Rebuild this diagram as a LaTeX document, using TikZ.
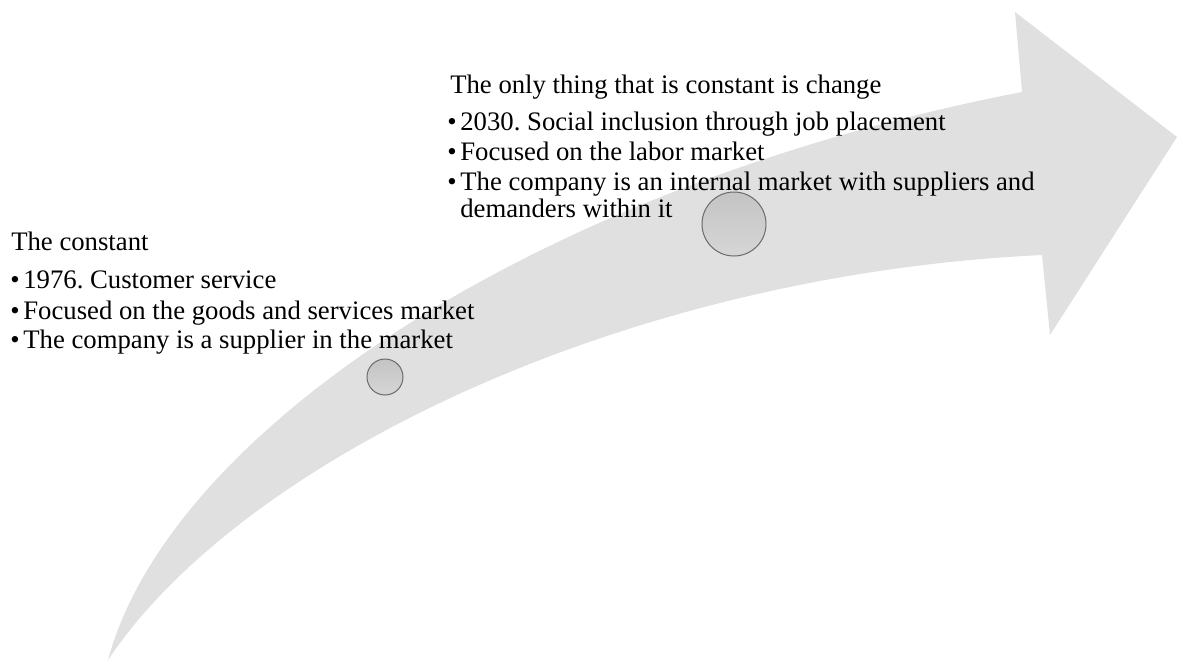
\documentclass[tikz,border=0pt]{standalone}
\usepackage{fontspec}
\setmainfont{Liberation Serif}
\definecolor{arrowgray}{RGB}{224,224,224}
\definecolor{dotedge}{RGB}{105,105,105}
\definecolor{dottop}{RGB}{196,196,196}
\definecolor{dotbot}{RGB}{214,214,214}
\newcommand{\bul}{\makebox[9.3pt][l]{\textbullet}}
\frenchspacing

\begin{document}
\begin{tikzpicture}[x=0.025cm, y=-0.025cm,
    line/.style={anchor=base west, inner sep=0pt, font=\fontsize{19}{21}\selectfont},
    milestone/.style={circle, draw=dotedge, line width=0.7pt, top color=dottop, bottom color=dotbot, inner sep=0pt}]
    \useasboundingbox (0,0) rectangle (1177,660);

    % Curved arrow
    \fill[arrowgray] (108,660) .. controls (170,430) and (540,185) .. (1022,92)
        -- (1015,12) -- (1177,137) -- (1050,335) -- (1042,255)
        .. controls (620,275) and (240,462) .. (108,660) -- cycle;

    % Milestones on the arrow
    \node[milestone, minimum size=0.9cm] (M1) at (385,377) {};
    \node[milestone, minimum size=1.6cm] (M2) at (734,224) {};

    % First stage
    \node[line] (T1)  at (11,250)  {The constant};
    \node[line] (T1a) at (10,288)  {\bul 1976. Customer service};
    \node[line] (T1b) at (10,319)  {\bul Focused on the goods and services market};
    \node[line] (T1c) at (10,348)  {\bul The company is a supplier in the market};

    % Second stage
    \node[line] (T2)  at (450,93)  {The only thing that is constant is change};
    \node[line] (T2a) at (447,130) {\bul 2030. Social inclusion through job placement};
    \node[line] (T2b) at (447,160) {\bul Focused on the labor market};
    \node[line] (T2c) at (447,190) {\bul The company is an internal market with suppliers and};
    \node[line] (T2d) at (447,217) {\hspace*{9.3pt}demanders within it};
\end{tikzpicture}
\end{document}
